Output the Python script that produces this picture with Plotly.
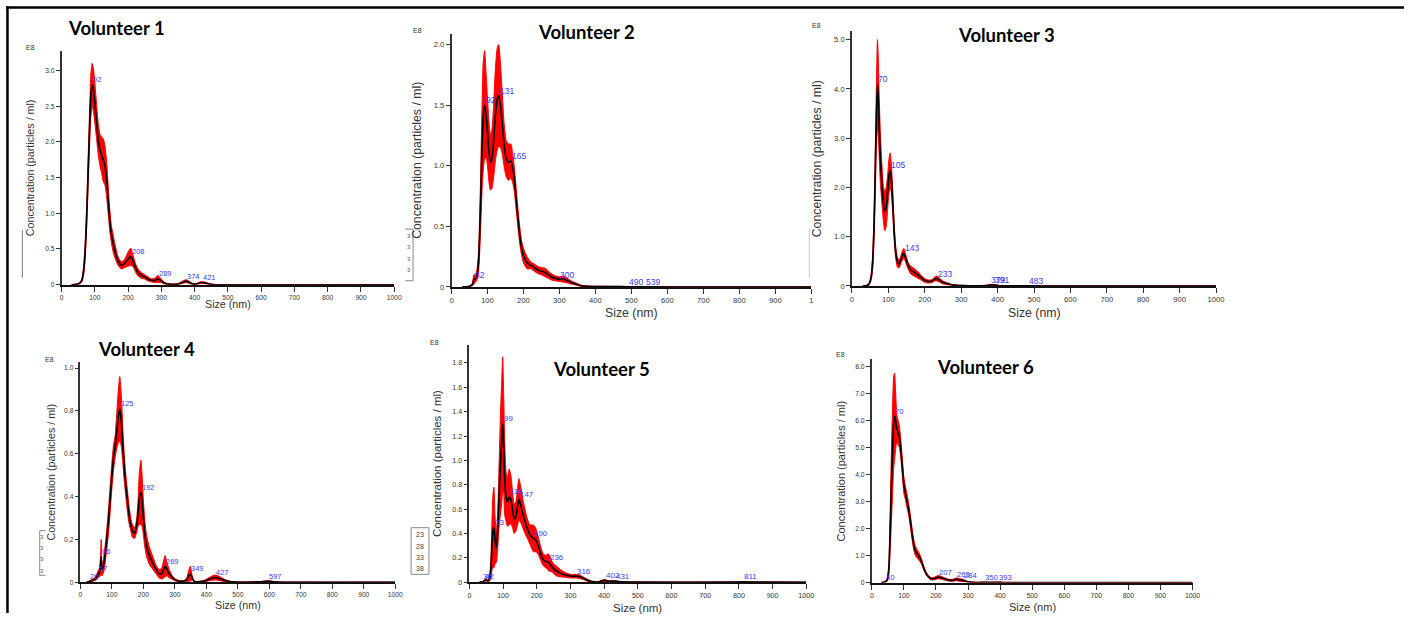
import plotly.graph_objects as go

W, H = 1416, 618

# ---------------- data ----------------
v1_size = [30, 50, 60, 65, 70, 75, 80, 85, 88, 92, 96, 100, 105, 110, 115, 120, 125, 130, 135, 140,
           145, 150, 155, 160, 170, 180, 190, 200, 208, 215, 222, 230, 240, 250, 260, 270, 280, 289, 298, 310,
           320, 335, 350, 362, 374, 385, 395, 405, 421, 435, 450, 465, 1000]
v1_mean = [0, 0.01, 0.05, 0.15, 0.4, 0.9, 1.6, 2.3, 2.65, 2.8, 2.72, 2.55, 2.3, 2.05, 1.9, 1.82, 1.75, 1.68, 1.5, 1.2,
           0.9, 0.7, 0.58, 0.48, 0.33, 0.27, 0.3, 0.36, 0.39, 0.33, 0.24, 0.17, 0.13, 0.11, 0.08, 0.06, 0.06, 0.08, 0.06, 0.02,
           0.01, 0.005, 0.01, 0.03, 0.05, 0.03, 0.01, 0.01, 0.03, 0.02, 0.005, 0, 0]
v1_err = [0, 0.005, 0.02, 0.05, 0.1, 0.15, 0.2, 0.25, 0.3, 0.3, 0.3, 0.28, 0.25, 0.22, 0.22, 0.25, 0.3, 0.28, 0.25, 0.2,
          0.15, 0.12, 0.12, 0.1, 0.06, 0.05, 0.06, 0.1, 0.12, 0.08, 0.06, 0.05, 0.04, 0.03, 0.03, 0.02, 0.03, 0.05, 0.03, 0.01,
          0.005, 0.003, 0.005, 0.015, 0.02, 0.015, 0.005, 0.005, 0.015, 0.01, 0.003, 0, 0]
v1_peaks = [92, 208, 289, 374, 421]
v1_peak_conc = [2.8, 0.39, 0.08, 0.05, 0.03]
v1_yticks = [0, 0.5, 1.0, 1.5, 2.0, 2.5, 3.0]

v2_size = [30, 50, 58, 62, 66, 70, 75, 80, 85, 88, 92, 96, 100, 104, 108, 112, 117, 122, 127, 131,
           136, 141, 146, 152, 158, 165, 170, 175, 180, 185, 190, 195, 200, 210, 220, 230, 240, 250, 260, 270,
           280, 290, 300, 310, 320, 330, 340, 350, 360, 375, 400, 450, 490, 539, 600, 1000]
v2_mean = [0, 0.005, 0.02, 0.06, 0.07, 0.09, 0.2, 0.6, 1.15, 1.4, 1.5, 1.42, 1.28, 1.12, 1.03, 1.05, 1.2, 1.42, 1.55, 1.58,
           1.5, 1.35, 1.18, 1.06, 1.03, 1.04, 0.98, 0.88, 0.72, 0.56, 0.42, 0.32, 0.26, 0.2, 0.18, 0.16, 0.14, 0.13, 0.12, 0.1,
           0.08, 0.07, 0.065, 0.065, 0.055, 0.04, 0.03, 0.02, 0.01, 0.006, 0.004, 0.003, 0.002, 0.002, 0, 0]
v2_err = [0, 0.003, 0.01, 0.04, 0.03, 0.04, 0.08, 0.2, 0.35, 0.45, 0.45, 0.35, 0.28, 0.25, 0.23, 0.24, 0.3, 0.38, 0.42, 0.42,
          0.35, 0.25, 0.18, 0.15, 0.15, 0.14, 0.12, 0.1, 0.09, 0.08, 0.07, 0.06, 0.06, 0.05, 0.03, 0.03, 0.03, 0.03, 0.035, 0.03,
          0.025, 0.02, 0.02, 0.025, 0.02, 0.015, 0.01, 0.008, 0.005, 0.003, 0.002, 0.002, 0.002, 0.002, 0, 0]
v2_peaks = [62, 92, 131, 165, 300, 490, 539]
v2_peak_conc = [0.06, 1.5, 1.58, 1.04, 0.06, 0.002, 0.002]
v2_yticks = [0, 0.5, 1.0, 1.5, 2.0]

v3_size = [30, 45, 52, 57, 61, 64, 67, 70, 72, 75, 78, 82, 86, 90, 94, 98, 102, 105, 108, 112,
           116, 120, 125, 130, 135, 140, 143, 148, 155, 162, 170, 180, 190, 200, 210, 220, 227, 233, 240, 250,
           260, 270, 285, 300, 340, 370, 379, 391, 405, 440, 483, 520, 1000]
v3_mean = [0, 0.02, 0.15, 0.5, 1.3, 2.3, 3.4, 4.1, 3.9, 3.2, 2.6, 2.1, 1.7, 1.52, 1.6, 1.9, 2.25, 2.35, 2.2, 1.7,
           1.1, 0.7, 0.48, 0.45, 0.55, 0.64, 0.66, 0.55, 0.4, 0.32, 0.28, 0.23, 0.17, 0.11, 0.09, 0.1, 0.14, 0.15, 0.12, 0.07,
           0.05, 0.03, 0.015, 0.01, 0.005, 0.01, 0.02, 0.02, 0.005, 0.003, 0.005, 0, 0]
v3_err = [0, 0.01, 0.05, 0.15, 0.3, 0.45, 0.6, 0.9, 0.8, 0.6, 0.5, 0.4, 0.35, 0.4, 0.4, 0.35, 0.35, 0.35, 0.3, 0.25,
          0.15, 0.12, 0.1, 0.08, 0.08, 0.1, 0.1, 0.08, 0.07, 0.08, 0.08, 0.07, 0.05, 0.04, 0.03, 0.03, 0.04, 0.05, 0.04, 0.03,
          0.02, 0.01, 0.008, 0.005, 0.003, 0.005, 0.01, 0.01, 0.003, 0.002, 0.002, 0, 0]
v3_peaks = [70, 105, 143, 233, 379, 391, 483]
v3_peak_conc = [4.1, 2.35, 0.66, 0.15, 0.02, 0.02, 0.005]
v3_yticks = [0, 1.0, 2.0, 3.0, 4.0, 5.0]

v4_size = [20, 30, 40, 50, 55, 60, 64, 66, 68, 72, 76, 80, 85, 90, 95, 100, 105, 110, 115, 120,
           125, 130, 135, 140, 145, 150, 155, 160, 165, 172, 178, 183, 187, 192, 196, 200, 205, 210, 220, 230,
           240, 250, 258, 264, 269, 275, 282, 290, 300, 315, 330, 338, 344, 349, 355, 362, 375, 395, 410, 427,
           440, 455, 470, 490, 570, 597, 620, 720, 1000]
v4_mean = [0, 0.005, 0.01, 0.02, 0.035, 0.045, 0.08, 0.12, 0.06, 0.07, 0.1, 0.15, 0.22, 0.3, 0.4, 0.5, 0.58, 0.63, 0.7, 0.77,
           0.81, 0.75, 0.63, 0.52, 0.44, 0.37, 0.31, 0.27, 0.24, 0.23, 0.26, 0.32, 0.39, 0.42, 0.38, 0.3, 0.22, 0.17, 0.12, 0.09,
           0.06, 0.04, 0.04, 0.06, 0.075, 0.06, 0.04, 0.025, 0.012, 0.005, 0.006, 0.012, 0.03, 0.04, 0.02, 0.004, 0.002, 0.006, 0.015, 0.022,
           0.018, 0.01, 0.004, 0.001, 0.002, 0.005, 0.001, 0, 0]
v4_err = [0, 0.002, 0.005, 0.01, 0.015, 0.02, 0.05, 0.08, 0.03, 0.03, 0.04, 0.04, 0.05, 0.06, 0.06, 0.06, 0.06, 0.05, 0.08, 0.12,
          0.15, 0.12, 0.08, 0.06, 0.05, 0.05, 0.04, 0.03, 0.03, 0.025, 0.03, 0.06, 0.12, 0.15, 0.12, 0.08, 0.06, 0.05, 0.04, 0.03,
          0.02, 0.02, 0.025, 0.04, 0.05, 0.03, 0.02, 0.01, 0.005, 0.003, 0.003, 0.01, 0.025, 0.035, 0.01, 0.002, 0.002, 0.004, 0.008, 0.012,
          0.01, 0.006, 0.002, 0.001, 0.001, 0.003, 0.001, 0, 0]
v4_peaks = [26, 57, 66, 125, 192, 269, 349, 427, 597]
v4_peak_conc = [0.003, 0.04, 0.12, 0.81, 0.42, 0.075, 0.04, 0.022, 0.005]
v4_yticks = [0, 0.2, 0.4, 0.6, 0.8, 1.0]

v5_size = [30, 40, 46, 50, 55, 60, 64, 67, 70, 73, 76, 80, 84, 88, 92, 96, 99, 102, 105, 109,
           113, 118, 123, 128, 133, 138, 143, 147, 152, 158, 165, 172, 180, 186, 190, 196, 202, 210, 218, 226,
           231, 236, 242, 250, 260, 270, 285, 300, 316, 328, 340, 352, 365, 380, 392, 402, 412, 431, 450, 480,
           790, 811, 840, 1000]
v5_mean = [0, 0.005, 0.015, 0.02, 0.01, 0.03, 0.12, 0.3, 0.42, 0.45, 0.35, 0.28, 0.42, 0.7, 0.95, 1.15, 1.3, 1.12, 0.85, 0.7,
           0.66, 0.7, 0.68, 0.6, 0.52, 0.54, 0.62, 0.68, 0.64, 0.57, 0.5, 0.44, 0.39, 0.37, 0.36, 0.35, 0.32, 0.25, 0.19, 0.17,
           0.17, 0.16, 0.14, 0.11, 0.09, 0.075, 0.06, 0.05, 0.05, 0.045, 0.03, 0.015, 0.005, 0.001, 0.01, 0.015, 0.008, 0.01, 0.003, 0.001,
           0.001, 0.003, 0.001, 0]
v5_err = [0, 0.002, 0.005, 0.01, 0.005, 0.02, 0.08, 0.2, 0.3, 0.33, 0.2, 0.12, 0.15, 0.25, 0.4, 0.5, 0.55, 0.4, 0.3, 0.2,
          0.2, 0.23, 0.2, 0.15, 0.12, 0.12, 0.15, 0.17, 0.15, 0.12, 0.1, 0.08, 0.08, 0.1, 0.11, 0.1, 0.08, 0.06, 0.05, 0.05,
          0.06, 0.07, 0.05, 0.04, 0.04, 0.03, 0.02, 0.015, 0.015, 0.015, 0.01, 0.008, 0.003, 0.001, 0.006, 0.008, 0.004, 0.004, 0.002, 0.001,
          0.001, 0.002, 0.001, 0]
v5_peaks = [36, 42, 73, 99, 118, 147, 190, 236, 316, 402, 431, 811]
v5_peak_conc = [0.005, 0.01, 0.45, 1.3, 0.7, 0.68, 0.36, 0.16, 0.05, 0.015, 0.01, 0.003]
v5_yticks = [0, 0.2, 0.4, 0.6, 0.8, 1.0, 1.2, 1.4, 1.6, 1.8]

v6_size = [30, 40, 48, 53, 57, 61, 65, 68, 71, 74, 78, 82, 86, 90, 95, 100, 105, 110, 115, 120,
           125, 130, 135, 140, 145, 150, 155, 160, 165, 170, 178, 185, 195, 207, 218, 230, 245, 255, 263, 272,
           284, 295, 305, 320, 340, 350, 370, 393, 410, 430, 1000]
v6_mean = [0, 0.02, 0.1, 0.5, 1.8, 3.5, 5.0, 5.9, 6.15, 6.0, 5.7, 5.55, 5.4, 5.0, 4.3, 3.6, 3.3, 3.0, 2.7, 2.3,
           1.85, 1.45, 1.2, 1.08, 1.0, 0.9, 0.78, 0.6, 0.45, 0.32, 0.2, 0.14, 0.15, 0.2, 0.17, 0.12, 0.08, 0.09, 0.12, 0.1,
           0.08, 0.04, 0.02, 0.005, 0.005, 0.01, 0.005, 0.01, 0.003, 0, 0]
v6_err = [0, 0.01, 0.05, 0.2, 0.7, 1.3, 1.6, 1.7, 1.6, 1.1, 0.5, 0.45, 0.4, 0.35, 0.3, 0.3, 0.25, 0.25, 0.22, 0.22,
          0.2, 0.2, 0.18, 0.16, 0.15, 0.13, 0.1, 0.08, 0.06, 0.05, 0.04, 0.04, 0.05, 0.06, 0.05, 0.04, 0.03, 0.04, 0.05, 0.05,
          0.04, 0.02, 0.01, 0.003, 0.003, 0.005, 0.003, 0.005, 0.002, 0, 0]
v6_peaks = [40, 70, 207, 263, 284, 350, 393]
v6_peak_conc = [0.02, 6.15, 0.2, 0.12, 0.08, 0.01, 0.01]
v6_yticks = [0, 1.0, 2.0, 3.0, 4.0, 5.0, 6.0, 7.0, 8.0]

x_ticks = [0, 100, 200, 300, 400, 500, 600, 700, 800, 900, 1000]

titles = ["Volunteer 1", "Volunteer 2", "Volunteer 3", "Volunteer 4", "Volunteer 5", "Volunteer 6"]

# ---------------- layout of panels (pixels in the 1416x618 picture) ----------------
panels = [
    dict(d=(v1_size, v1_mean, v1_err, v1_peaks, v1_peak_conc, v1_yticks),
         ax=(60, 395), ay=(287, 51), ymax=3.28, tpos=(115, 28), e8=(29, 48), fs=10.7, yo=32, xo=19),
    dict(d=(v2_size, v2_mean, v2_err, v2_peaks, v2_peak_conc, v2_yticks),
         ax=(452.7, 815), ay=(289.3, 34), ymax=2.09, tpos=(589, 32), e8=(418, 31), fs=12.3, yo=34, xo=26),
    dict(d=(v3_size, v3_mean, v3_err, v3_peaks, v3_peak_conc, v3_yticks),
         ax=(856, 1222.7), ay=(288.3, 31), ymax=5.18, tpos=(1011.7, 35), e8=(820, 26), fs=12.3, yo=35, xo=27),
    dict(d=(v4_size, v4_mean, v4_err, v4_peaks, v4_peak_conc, v4_yticks),
         ax=(79, 396), ay=(587, 365), ymax=1.028, tpos=(145.5, 352), e8=(48, 362), fs=10.7, yo=29, xo=23),
    dict(d=(v5_size, v5_mean, v5_err, v5_peaks, v5_peak_conc, v5_yticks),
         ax=(470.7, 810), ay=(587, 348), ymax=1.946, tpos=(604, 372), e8=(436, 345), fs=11.5, yo=33, xo=26),
    dict(d=(v6_size, v6_mean, v6_err, v6_peaks, v6_peak_conc, v6_yticks),
         ax=(876, 1199), ay=(587.3, 361.7), ymax=8.28, tpos=(990, 370), e8=(844, 357), fs=11, yo=31, xo=24),
]

def px(x):
    return x / W

def py(y):
    return 1 - y / H

fig = go.Figure()
annotations = []
layout_axes = {}
TICKFONT = "Liberation Sans, Arial, sans-serif"

for i, p in enumerate(panels):
    n = i + 1
    xa = "x" if n == 1 else f"x{n}"
    ya = "y" if n == 1 else f"y{n}"
    size, mean, err, peaks, peak_conc, yticks = p["d"]
    upper = [m + e for m, e in zip(mean, err)]
    lower = [max(0.0, m - e) for m, e in zip(mean, err)]

    fig.add_trace(go.Scatter(x=size, y=lower, mode="lines", xaxis=xa, yaxis=ya,
                             line=dict(color="#ff0000", width=1, shape="spline", smoothing=0.6),
                             hoverinfo="skip", showlegend=False))
    fig.add_trace(go.Scatter(x=size, y=upper, mode="lines", xaxis=xa, yaxis=ya, fill="tonexty",
                             fillcolor="#ff0000",
                             line=dict(color="#ff0000", width=1, shape="spline", smoothing=0.6),
                             hoverinfo="skip", showlegend=False))
    fig.add_trace(go.Scatter(x=size, y=mean, mode="lines", xaxis=xa, yaxis=ya,
                             line=dict(color="#000000", width=1.6, shape="spline", smoothing=0.6),
                             showlegend=False))

    sc = p["fs"] / 12.3
    xtext = [str(v) for v in x_ticks]
    if n == 2:
        xtext[-1] = "1"
    ytext = ["0" if v == 0 else f"{v:.1f}" for v in yticks]

    x0, x1 = p["ax"]
    yb, yt = p["ay"]
    xkey = "xaxis" if n == 1 else f"xaxis{n}"
    ykey = "yaxis" if n == 1 else f"yaxis{n}"
    layout_axes[xkey] = dict(domain=[px(x0), px(x1)], range=[0, 1000], anchor=ya,
                             showgrid=False, zeroline=False, showline=True, linecolor="#111",
                             linewidth=2, ticks="outside", ticklen=5, tickwidth=1, tickcolor="#333",
                             tickvals=x_ticks, ticktext=xtext,
                             tickfont=dict(family=TICKFONT, size=7 * sc + 0.6, color="#333"),
                             fixedrange=True)
    layout_axes[ykey] = dict(domain=[py(yb), py(yt)], range=[0, p["ymax"]], anchor=xa,
                             showgrid=False, zeroline=False, showline=True, linecolor="#333",
                             linewidth=1.5, ticks="outside", ticklen=4, tickwidth=1, tickcolor="#333",
                             tickvals=yticks, ticktext=ytext,
                             tickfont=dict(family=TICKFONT, size=7 * sc + 0.6, color="#333"),
                             fixedrange=True)

    # peak labels
    for pk, pc in zip(peaks, peak_conc):
        annotations.append(dict(x=pk, y=pc, xref=xa, yref=ya, text=str(pk), showarrow=False,
                                xanchor="left", yanchor="middle", yshift=5, xshift=-1,
                                font=dict(family=TICKFONT, size=8 * sc + 0.5, color="#3b3bff")))
    # axis titles
    annotations.append(dict(x=px(x0), y=(py(yb) + py(yt)) / 2, xref="paper", yref="paper",
                            text="Concentration (particles / ml)", textangle=-90, showarrow=False,
                            xanchor="center", yanchor="middle", xshift=-p["yo"],
                            font=dict(family=TICKFONT, size=p["fs"], color="#333")))
    annotations.append(dict(x=(px(x0) + px(x1)) / 2, y=py(yb), xref="paper", yref="paper",
                            text="Size (nm)", showarrow=False, xanchor="center", yanchor="middle",
                            yshift=-p["xo"],
                            font=dict(family=TICKFONT, size=p["fs"], color="#333")))
    # E8 exponent label
    annotations.append(dict(x=px(p["e8"][0]), y=py(p["e8"][1]), xref="paper", yref="paper",
                            text="E8", showarrow=False, xanchor="center", yanchor="middle",
                            font=dict(family=TICKFONT, size=7, color="#333")))
    # panel title
    annotations.append(dict(x=px(p["tpos"][0]), y=py(p["tpos"][1]), xref="paper", yref="paper",
                            text=f"<b>{titles[i]}</b>", showarrow=False, xanchor="center", yanchor="middle",
                            font=dict(family="Lato, Open Sans, sans-serif", size=18.5, color="#000")))

# cropped fragments of neighbouring figures (tiny legend digits)
for j, t in enumerate(["23", "28", "33", "38"]):
    annotations.append(dict(x=px(421), y=py(539 + 11.5 * j), xref="paper", yref="paper", text=t,
                            showarrow=False, xanchor="center", yanchor="middle",
                            font=dict(family=TICKFONT, size=7, color="#444")))
for j in range(4):
    annotations.append(dict(x=px(409.5), y=py(238 + 11.5 * j), xref="paper", yref="paper", text="3",
                            showarrow=False, xanchor="center", yanchor="middle",
                            font=dict(family=TICKFONT, size=6, color="#556")))
    annotations.append(dict(x=px(40.5), y=py(541 + 11.5 * j), xref="paper", yref="paper", text="3",
                            showarrow=False, xanchor="center", yanchor="middle",
                            font=dict(family=TICKFONT, size=6, color="#556")))

shapes = [
    # outer frame
    dict(type="line", xref="paper", yref="paper", x0=px(4), x1=px(1412), y0=py(7.5), y1=py(7.5),
         line=dict(color="#000", width=2.5)),
    dict(type="line", xref="paper", yref="paper", x0=px(5.5), x1=px(5.5), y0=py(6.5), y1=py(618),
         line=dict(color="#000", width=2.5)),
    # faint fragments of neighbouring figures
    dict(type="line", xref="paper", yref="paper", x0=px(20.5), x1=px(20.5), y0=py(232), y1=py(280),
         line=dict(color="#777", width=1)),
    dict(type="line", xref="paper", yref="paper", x0=px(813), x1=px(813), y0=py(230), y1=py(280),
         line=dict(color="#ccc", width=1)),
    dict(type="path", xref="paper", yref="paper",
         path=f"M {px(406)} {py(231)} L {px(414)} {py(231)} L {px(414)} {py(283)} L {px(406)} {py(283)}",
         line=dict(color="#888", width=1)),
    dict(type="path", xref="paper", yref="paper",
         path=f"M {px(44)} {py(535)} L {px(38)} {py(535)} L {px(38)} {py(580)} L {px(44)} {py(580)}",
         line=dict(color="#888", width=1)),
    dict(type="rect", xref="paper", yref="paper", x0=px(412), x1=px(430), y0=py(532), y1=py(579),
         line=dict(color="#888", width=1)),
]

fig.update_layout(
    width=W, height=H,
    margin=dict(l=0, r=0, t=0, b=0),
    paper_bgcolor="white", plot_bgcolor="rgba(0,0,0,0)",
    showlegend=False,
    annotations=annotations,
    shapes=shapes,
    **layout_axes,
)

fig.write_html("out.html", config={"displayModeBar": False})
